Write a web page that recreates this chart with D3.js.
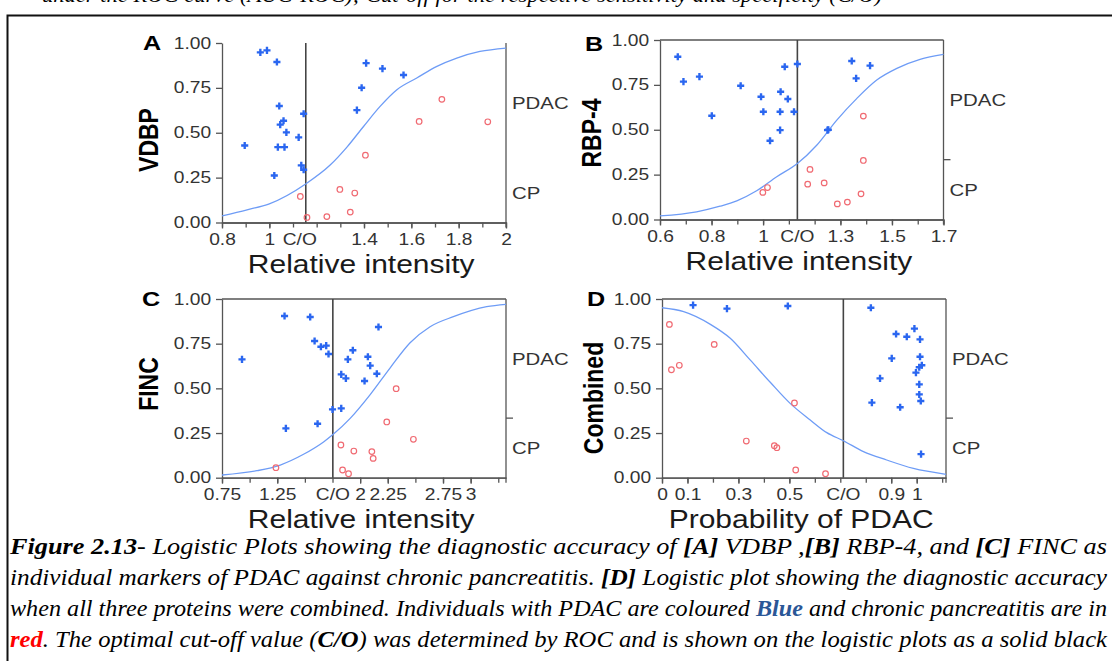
<!DOCTYPE html>
<html lang="en">
<head>
<meta charset="UTF-8">
<title>Logistic plots</title>
<style>
    body { margin: 0; background: #fff; }
    svg text { font-family: "Liberation Sans", Arial, sans-serif; }
    .axis path,
    .axis line {
        stroke: #555;
        stroke-width: 1.3;
        fill: none;
    }
    .axis text { font-size: 16px; fill: #333; }
    .frame { stroke: #555; stroke-width: 1.3; }
    .cutoff { stroke: #444; stroke-width: 1.6; }
    .curve { fill: none; stroke: #6e9cf6; stroke-width: 1.3; }
    .cp { fill: none; stroke: #f06a72; stroke-width: 1.2; }
    .pdac { fill: #2a66f0; }
    .side { font-size: 17px; fill: #333; }
    .xtitle { font-size: 25px; fill: #1a1a1a; }
    .ytitle { font-size: 23px; font-weight: bold; fill: #000; }
    .letter { font-size: 21px; font-weight: bold; fill: #000; }
    .caption { font-family: "Liberation Serif", "Times New Roman", serif; font-style: italic; font-size: 24px; fill: #000; }
</style>
</head>
<body>
<div id="chart"></div>

<script src="https://cdnjs.cloudflare.com/ajax/libs/d3/7.8.5/d3.min.js"></script>
<script>
// ---------- data ----------
const yTicks = [0, 0.25, 0.5, 0.75, 1];

// A: VDBP
const vdbpPdac = [[0.962,0.948],[0.990,0.959],[1.032,0.894],[1.042,0.649],[1.060,0.567],[1.046,0.545],[1.072,0.502],
    [1.036,0.420],[1.064,0.420],[0.896,0.429],[1.124,0.474],[1.145,0.606],[1.135,0.318],[1.145,0.294],[1.021,0.262],
    [1.409,0.888],[1.478,0.857],[1.567,0.822],[1.390,0.751],[1.370,0.626]];
const vdbpCp = [[1.131,0.145],[1.159,0.028],[1.243,0.033],[1.298,0.184],[1.361,0.164],[1.342,0.058],[1.406,0.375],
    [1.633,0.563],[1.729,0.686],[1.923,0.561]];
const vdbpCurve = [[0.8,0.037],[0.906,0.071],[1.0,0.104],[1.155,0.216],[1.257,0.320],[1.328,0.420],[1.398,0.535],
    [1.468,0.647],[1.539,0.740],[1.623,0.805],[1.708,0.870],[1.792,0.916],[1.890,0.953],[2.0,0.972]];
const vdbpTicks = [0.8, 1, 1.4, 1.6, 1.8, 2];
const vdbpCutoff = 1.154;

// B: RBP-4
const rbpPdac = [[0.669,0.907],[0.691,0.768],[0.753,0.796],[0.801,0.578],[0.913,0.745],[0.992,0.684],[1.001,0.600],
    [1.027,0.439],[1.068,0.712],[1.084,0.851],[1.096,0.671],[1.066,0.600],[1.066,0.498],[1.120,0.600],[1.133,0.866],
    [1.250,0.498],[1.253,0.500],[1.344,0.883],[1.361,0.786],[1.415,0.857]];
const rbpCp = [[0.999,0.151],[1.017,0.178],[1.182,0.279],[1.173,0.197],[1.237,0.204],[1.288,0.087],[1.327,0.097],
    [1.380,0.143],[1.389,0.329],[1.389,0.576]];
const rbpCurve = [[0.6,0.020],[0.742,0.043],[0.833,0.074],[0.898,0.104],[0.975,0.160],[1.053,0.238],[1.133,0.312],
    [1.208,0.414],[1.286,0.554],[1.364,0.675],[1.441,0.777],[1.519,0.842],[1.609,0.892],[1.7,0.920]];
const rbpTicks = [0.6, 0.8, 1, 1.3, 1.5, 1.7];
const rbpCutoff = 1.133;

// C: FINC
const fincPdac = [[0.931,0.662],[1.316,0.905],[1.548,0.899],[1.588,0.765],[1.645,0.733],[1.693,0.739],[1.714,0.692],
    [1.328,0.276],[1.615,0.302],[1.750,0.382],[1.829,0.388],[1.829,0.578],[1.871,0.556],[1.889,0.662],[1.934,0.713],
    [2.070,0.677],[2.091,0.627],[2.040,0.541],[2.151,0.582],[2.166,0.843]];
const fincCp = [[1.238,0.056],[1.826,0.183],[1.841,0.043],[1.895,0.022],[1.943,0.149],[2.106,0.146],[2.118,0.108],
    [2.241,0.312],[2.326,0.498],[2.482,0.215]];
const fincCurve = [[0.75,0.015],[1.066,0.039],[1.277,0.071],[1.488,0.131],[1.669,0.200],[1.759,0.244],[1.910,0.332],
    [2.091,0.465],[2.272,0.615],[2.452,0.755],[2.633,0.845],[2.844,0.901],[3.145,0.957],[3.32,0.970]];
const fincTicks = [0.75, 1.25, 2, 2.25, 2.75, 3];
const fincCutoff = 1.753;

// D: combined
const combPdac = [[0.122,0.966],[0.255,0.946],[0.494,0.961],[0.820,0.951],[0.919,0.804],[0.961,0.789],[0.991,0.834],
    [1.013,0.774],[0.902,0.668],[1.013,0.677],[1.020,0.629],[1.010,0.618],[0.997,0.588],[0.856,0.556],[1.010,0.522],
    [1.010,0.466],[1.016,0.429],[0.824,0.420],[0.935,0.394],[1.017,0.132]];
const combCp = [[0.029,0.858],[0.037,0.604],[0.068,0.629],[0.205,0.746],[0.331,0.205],[0.441,0.179],[0.451,0.168],
    [0.520,0.418],[0.525,0.043],[0.642,0.022]];
const combCurve = [[0,0.951],[0.085,0.929],[0.190,0.858],[0.268,0.780],[0.346,0.659],[0.425,0.534],[0.503,0.416],
    [0.582,0.323],[0.647,0.252],[0.712,0.207],[0.791,0.146],[0.882,0.099],[0.987,0.052],[1.115,0.019]];
const combTicks = [0, 0.1, 0.3, 0.5, 0.9, 1];
const combCutoff = 0.712;

const captionLines = [
    [['Figure 2.13', 'b'], ['- Logistic Plots showing the diagnostic accuracy of '], ['[A]', 'b'], [' VDBP ,'], ['[B]', 'b'],
     [' RBP-4, and '], ['[C]', 'b'], [' FINC as']],
    [['individual markers of PDAC against chronic pancreatitis. '], ['[D]', 'b'], [' Logistic plot showing the diagnostic accuracy']],
    [['when all three proteins were combined. Individuals with PDAC are coloured '], ['Blue', 'blue'], [' and chronic pancreatitis are in']],
    [['red', 'red'], ['. The optimal cut-off value ('], ['C/O', 'b'], [') was determined by ROC and is shown on the logistic plots as a solid black']]
];

// ---------- layout ----------
const SX = 1.2;   // the original figure is stretched sideways
const panels = [
    { letter: 'A', title: 'VDBP', xTitle: 'Relative intensity', pdac: vdbpPdac, cp: vdbpCp, curve: vdbpCurve,
      ticks: vdbpTicks, step: 0.1, domain: [0.8, 2], cutoff: vdbpCutoff, box: [222, 43, 506, 222.5],
      top: false, sideTick: false, coShift: -6, yTitle: [148, 140], letterAt: [143, 50] },
    { letter: 'B', title: 'RBP-4', xTitle: 'Relative intensity', pdac: rbpPdac, cp: rbpCp, curve: rbpCurve,
      ticks: rbpTicks, step: 0.1, domain: [0.6, 1.7], cutoff: rbpCutoff, box: [660, 40, 943.5, 219.5],
      top: true, sideTick: true, coShift: 0, yTitle: [591, 133], letterAt: [585, 51] },
    { letter: 'C', title: 'FINC', xTitle: 'Relative intensity', pdac: fincPdac, cp: fincCp, curve: fincCurve,
      ticks: fincTicks, step: 0.25, domain: [0.75, 3.32], cutoff: fincCutoff, box: [222, 299, 506, 477.7],
      top: true, sideTick: true, coShift: 0, yTitle: [148, 384], letterAt: [142, 306] },
    { letter: 'D', title: 'Combined', xTitle: 'Probability of PDAC', pdac: combPdac, cp: combCp, curve: combCurve,
      ticks: combTicks, step: 0.1, domain: [0, 1.115], cutoff: combCutoff, box: [662, 299, 946, 477.7],
      top: true, sideTick: true, coShift: 0, yTitle: [593, 398], letterAt: [587, 306] }
];

const svg = d3.select('#chart')
    .append('svg')
      .attr('width', 1112)
      .attr('height', 661);

function addText(sel, x, y, str, cls, anchor, rotate) {
    return sel.append('text')
        .attr('class', cls)
        .attr('text-anchor', anchor || 'start')
        .attr('transform', `translate(${x},${y}) scale(${SX},1)` + (rotate ? ' rotate(-90)' : ''))
        .text(str);
}

// outer box of the page figure
svg.append('path')
    .attr('d', 'M7.5,661 V15.5 H1112')
    .attr('fill', 'none')
    .attr('stroke', '#111')
    .attr('stroke-width', 2);

// previous caption line, mostly cut off at the top of the page
svg.append('text')
    .attr('class', 'caption')
    .attr('x', 42)
    .attr('y', 2)
    .attr('textLength', 840)
    .attr('lengthAdjust', 'spacingAndGlyphs')
    .style('font-size', '22px')
    .text('under the ROC curve (AUC-ROC); Cut-off for the respective sensitivity and specificity (C/O)');

panels.forEach(p => {
    const [left, top, right, bottom] = p.box;
    const x = d3.scaleLinear().domain(p.domain).range([left, right]);
    const y = d3.scaleLinear().domain([0, 1]).range([bottom, top]);
    const g = svg.append('g');

    // minor ticks
    const minor = d3.range(p.domain[0], p.domain[1] + 1e-9, p.step);
    g.append('g')
        .attr('class', 'axis')
        .attr('transform', `translate(0,${bottom})`)
        .call(d3.axisBottom(x).tickValues(minor).tickSize(5).tickSizeOuter(0).tickFormat(''));

    // labelled x ticks
    g.append('g')
        .attr('class', 'axis')
        .attr('transform', `translate(0,${bottom})`)
        .call(d3.axisBottom(x).tickValues(p.ticks).tickSize(6).tickSizeOuter(0).tickPadding(5).tickFormat(d => d))
      .selectAll('text')
        .attr('transform', `scale(${SX},1)`);

    // y axis
    g.append('g')
        .attr('class', 'axis')
        .attr('transform', `translate(${left},0)`)
        .call(d3.axisLeft(y).tickValues(yTicks).tickSize(6).tickSizeOuter(0).tickFormat(d3.format('.2f')))
      .selectAll('text')
        .attr('transform', `scale(${SX},1)`);

    // right (and top) frame
    g.append('line').attr('class', 'frame')
        .attr('x1', right).attr('x2', right).attr('y1', top).attr('y2', bottom + 5);
    if (p.top) {
        g.append('line').attr('class', 'frame')
            .attr('x1', left).attr('x2', right).attr('y1', top).attr('y2', top);
    }

    // cut-off line and label
    g.append('line').attr('class', 'cutoff')
        .attr('x1', x(p.cutoff)).attr('x2', x(p.cutoff))
        .attr('y1', top).attr('y2', bottom);
    addText(g, x(p.cutoff) + p.coShift, bottom + 11, 'C/O', '', 'middle')
        .attr('dy', '0.71em')
        .style('font-size', '16px')
        .style('fill', '#333');

    // fitted logistic curve
    g.append('path')
        .datum(p.curve)
        .attr('class', 'curve')
        .attr('d', d3.line().x(d => x(d[0])).y(d => y(d[1])).curve(d3.curveMonotoneX));

    // chronic pancreatitis (red circles)
    g.selectAll('circle.cp')
        .data(p.cp)
        .join('circle')
          .attr('class', 'cp')
          .attr('cx', d => x(d[0]))
          .attr('cy', d => y(d[1]))
          .attr('r', 2.8);

    // PDAC (blue crosses)
    g.selectAll('path.pdac')
        .data(p.pdac)
        .join('path')
          .attr('class', 'pdac')
          .attr('d', d3.symbol(d3.symbolCross, 28))
          .attr('transform', d => `translate(${x(d[0])},${y(d[1])})`);

    // group labels on the right side
    const share = p.cp.length / (p.cp.length + p.pdac.length);
    if (p.sideTick) {
        g.append('line').attr('class', 'frame')
            .attr('x1', right).attr('x2', right + 7)
            .attr('y1', y(share)).attr('y2', y(share));
    }
    addText(g, right + 6, y((1 + share) / 2), 'PDAC', 'side').attr('dy', '0.35em');
    addText(g, right + 6, y(share / 2), 'CP', 'side').attr('dy', '0.35em');

    // titles
    addText(g, left + (right - left) * 0.49, bottom + 50, p.xTitle, 'xtitle', 'middle');
    addText(g, p.yTitle[0], p.yTitle[1], p.title, 'ytitle', 'middle', true).attr('dy', '0.36em');
    addText(g, p.letterAt[0], p.letterAt[1], p.letter, 'letter');
});

// caption
const styles = {
    b: { 'font-weight': 'bold' },
    blue: { 'font-weight': 'bold', fill: '#2b5797' },
    red: { 'font-weight': 'bold', fill: '#ff0000' }
};
captionLines.forEach((line, i) => {
    const t = svg.append('text')
        .attr('class', 'caption')
        .attr('x', 10)
        .attr('y', 554 + i * 31)
        .attr('textLength', 1097)
        .attr('lengthAdjust', 'spacingAndGlyphs');
    line.forEach(([str, kind]) => {
        const span = t.append('tspan').text(str);
        if (kind) Object.entries(styles[kind]).forEach(([k, v]) => span.style(k, v));
    });
});
</script>
</body>
</html>
